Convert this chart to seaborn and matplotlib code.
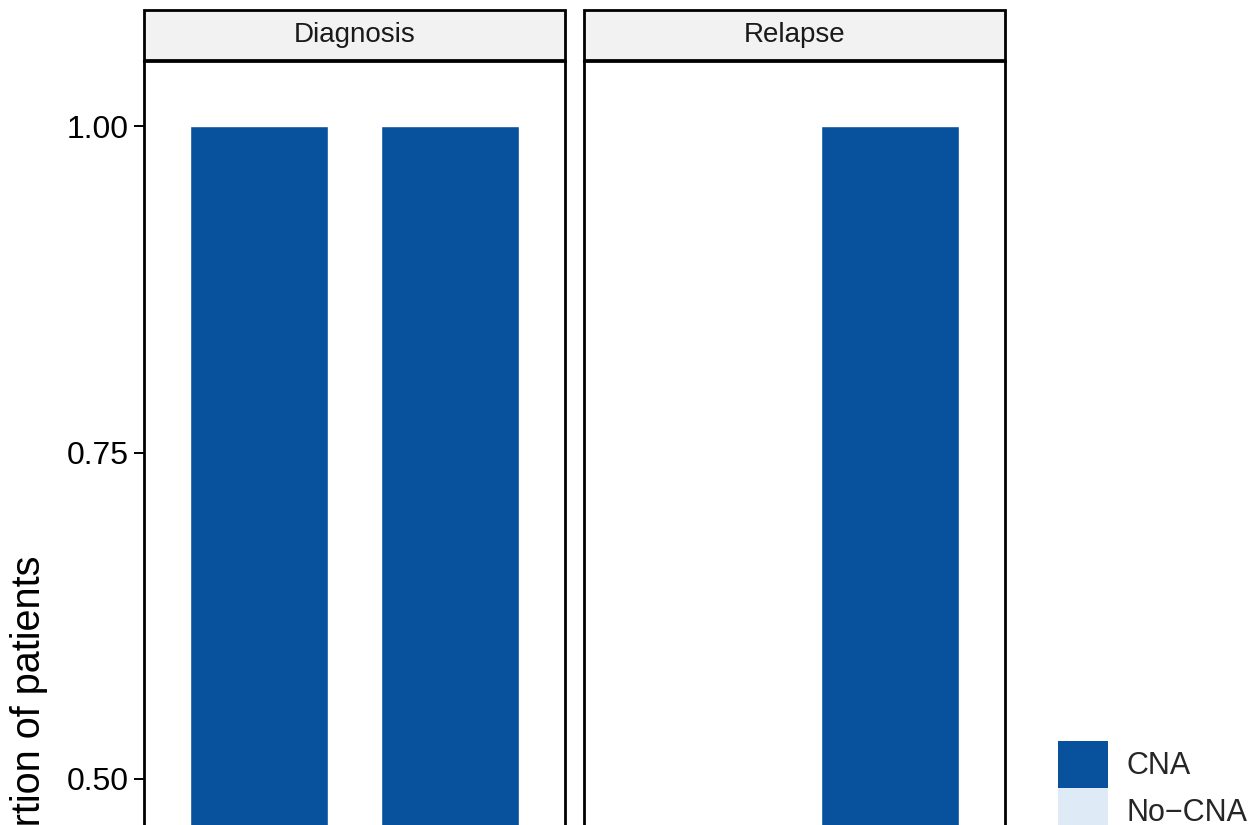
import numpy as np
import pandas as pd
import matplotlib
matplotlib.use("Agg")
import matplotlib.pyplot as plt
from matplotlib.patches import Patch, Rectangle
import seaborn as sns

# ── data ────────────────────────────────────────────────────────────────
stages = ["Diagnosis", "Relapse"]
groups = ["Group 1", "Group 2"]
cna_diagnosis = [1.0, 1.0]
no_cna_diagnosis = [0.0, 0.0]
cna_relapse = [np.nan, 1.0]
no_cna_relapse = [np.nan, 0.0]
status_labels = ["CNA", "No\u2212CNA"]
status_colors = ["#08519C", "#DEEBF7"]
yticks = [0.0, 0.25, 0.50, 0.75, 1.00]

rows = []
for stage, cna, no_cna in [("Diagnosis", cna_diagnosis, no_cna_diagnosis),
                           ("Relapse", cna_relapse, no_cna_relapse)]:
    for g, c, n in zip(groups, cna, no_cna):
        rows.append({"stage": stage, "group": g, "cna": c, "no_cna": n})
df = pd.DataFrame(rows).dropna()
df["total"] = df["cna"] + df["no_cna"]

sns.set_theme(style="white")
plt.rcParams["font.family"] = ["Liberation Sans", "DejaVu Sans"]

W, H = 1253, 825
fig = plt.figure(figsize=(W / 100, H / 100), dpi=100)

# panel geometry in pixels (the lower part of the panels is cropped away)
px_per_unit = 1305.0
top_px = 61
panel_h = 1.1 * px_per_unit
lefts = [144, 584]
panel_w = 421
strip_h = 50 / panel_h
strip_gap = 1.5 / panel_h
lw = 2.0

axes = []
for i, stage in enumerate(stages):
    ax = fig.add_axes([lefts[i] / W, 1 - (top_px + panel_h) / H,
                       panel_w / W, panel_h / H])
    sub = df[df["stage"] == stage]
    # stacked: total (CNA on top) then No-CNA over the bottom part
    sns.barplot(data=sub, x="group", y="total", order=groups,
                color=status_colors[0], saturation=1, width=0.72,
                errorbar=None, ax=ax)
    sns.barplot(data=sub, x="group", y="no_cna", order=groups,
                color=status_colors[1], saturation=1, width=0.72,
                errorbar=None, ax=ax)
    ax.set_xlim(-0.6, 1.6)
    ax.set_ylim(-0.05, 1.05)
    ax.set_xlabel("")
    ax.set_ylabel("")
    for sp in ax.spines.values():
        sp.set_visible(True)
        sp.set_color("black")
        sp.set_linewidth(lw)

    # facet strip
    ax.add_patch(Rectangle((0, 1 + strip_gap), 1, strip_h, transform=ax.transAxes,
                           clip_on=False, facecolor="#F2F2F2",
                           edgecolor="black", linewidth=lw))
    ax.text(0.5, 1 + strip_gap + strip_h / 2, stage, transform=ax.transAxes,
            ha="center", va="center", fontsize=20, color="#1A1A1A")
    axes.append(ax)

ax1, ax2 = axes
ax1.set_yticks(yticks)
ax1.set_yticklabels([f"{t:.2f}" for t in yticks])
ax1.tick_params(axis="y", left=True, length=7, width=1.4, pad=4,
                labelsize=23, color="black", labelcolor="black")
ax2.tick_params(axis="y", left=False, labelleft=False)
for ax in axes:
    ax.tick_params(axis="x", bottom=True, labelsize=20)

ax1.set_ylabel("Proportion of patients", fontsize=28.5, color="black")
ax1.yaxis.label.set_ha("right")
ax1.yaxis.label.set_va("center")
ax1.yaxis.set_label_coords(29 / W, 1 - 556 / H, transform=fig.transFigure)

# legend
fs = 22
fs_px = fs * 100 / 72
key_h = 47 / fs_px
handles = [Patch(facecolor=c, edgecolor="none") for c in status_colors]
fig.legend(handles, status_labels, loc="upper left",
           bbox_to_anchor=(1058 / W, 1 - 741 / H), bbox_transform=fig.transFigure,
           frameon=False, fontsize=fs, borderpad=0, borderaxespad=0,
           handlelength=50 / fs_px, handleheight=(key_h - 0.245) / 0.65,
           handletextpad=0.6, labelspacing=0)

fig.savefig("out.png", dpi=100)
